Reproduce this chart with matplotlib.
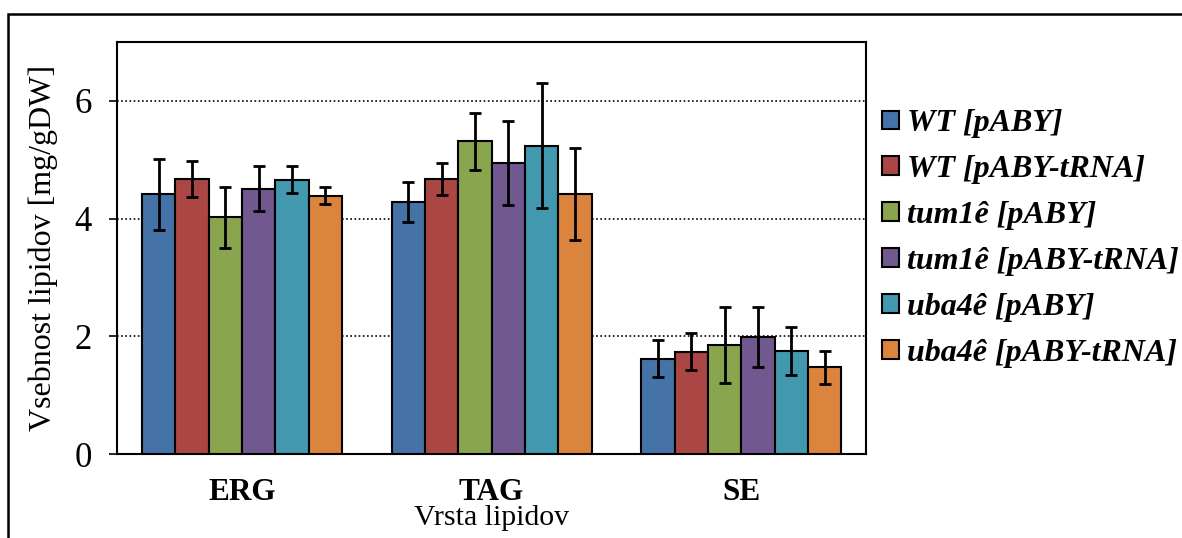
import numpy as np
import matplotlib
matplotlib.use("Agg")
import matplotlib.pyplot as plt
from matplotlib.patches import Rectangle

plt.rcParams["font.family"] = ["Liberation Serif", "DejaVu Serif"]

categories = ["ERG", "TAG", "SE"]
series_names = ["WT [pABY]", "WT [pABY-tRNA]", "tum1ê [pABY]",
                "tum1ê [pABY-tRNA]", "uba4ê [pABY]", "uba4ê [pABY-tRNA]"]
colors = ["#4572A7", "#AA4643", "#89A54E", "#71588F", "#4198AF", "#DB843D"]

# mean lipid content per strain, ordered ERG, TAG, SE
wt_paby = [4.41, 4.28, 1.62]
wt_paby_trna = [4.67, 4.67, 1.74]
tum1_paby = [4.02, 5.31, 1.85]
tum1_paby_trna = [4.51, 4.94, 1.98]
uba4_paby = [4.66, 5.24, 1.75]
uba4_paby_trna = [4.39, 4.42, 1.47]

# standard deviations
wt_paby_err = [0.61, 0.34, 0.31]
wt_paby_trna_err = [0.30, 0.27, 0.32]
tum1_paby_err = [0.52, 0.49, 0.64]
tum1_paby_trna_err = [0.38, 0.71, 0.51]
uba4_paby_err = [0.23, 1.06, 0.41]
uba4_paby_trna_err = [0.15, 0.78, 0.28]

y_ticks = [0, 2, 4, 6]

values = [wt_paby, wt_paby_trna, tum1_paby, tum1_paby_trna, uba4_paby, uba4_paby_trna]
errors = [wt_paby_err, wt_paby_trna_err, tum1_paby_err, tum1_paby_trna_err,
          uba4_paby_err, uba4_paby_trna_err]

fig = plt.figure(figsize=(11.82, 5.38), dpi=100)
ax = fig.add_axes([0.099, 0.1561, 0.6337, 0.7658])

x = np.arange(len(categories))
n = len(series_names)
width = 0.1335
for i, (name, vals, errs, col) in enumerate(zip(series_names, values, errors, colors)):
    offs = (i - (n - 1) / 2) * width
    ax.bar(x + offs, vals, width, color=col, edgecolor="black", linewidth=1.5,
           label=name, zorder=3)
    ax.errorbar(x + offs, vals, yerr=errs, fmt="none", ecolor="black",
                elinewidth=2, capsize=4.5, capthick=2, zorder=4)

ax.set_xlim(-0.5, len(categories) - 0.5)
ax.set_ylim(0, 7)
ax.set_yticks(y_ticks)
ax.set_xticks(x)
ax.set_xticklabels(categories, fontsize=22.5, fontweight="bold")
ax.tick_params(axis="x", length=0, pad=17)
ax.tick_params(axis="y", length=6, width=1.2, direction="out", pad=12, labelsize=25)
ax.yaxis.grid(True, linestyle=(0, (1, 1.5)), color="black", linewidth=1.2, zorder=0)
ax.set_axisbelow(True)
for sp in ax.spines.values():
    sp.set_linewidth(1.5)
    sp.set_color("black")

ax.set_ylabel("Vsebnost lipidov [mg/gDW]", fontsize=23, labelpad=12)
ax.set_xlabel("Vrsta lipidov", fontsize=21.5, labelpad=-1)

leg = ax.legend(loc="center left", bbox_to_anchor=(0.7462, 0.5567),
                bbox_transform=fig.transFigure, frameon=False,
                prop={"family": ["Liberation Serif"], "weight": "bold",
                      "style": "italic", "size": 23},
                handlelength=0.52, handleheight=0.52, handletextpad=0.26,
                labelspacing=0.53, borderaxespad=0, borderpad=0)
for h in leg.legend_handles:
    h.set_linewidth(1.5)
    h.set_edgecolor("black")

# outer chart frame
fig.patches.append(Rectangle((8 / 1182, -0.2), 1.2, 0.974 + 0.2,
                             transform=fig.transFigure, fill=False,
                             edgecolor="black", linewidth=1.8, clip_on=False))

fig.savefig("out.png", dpi=100)
